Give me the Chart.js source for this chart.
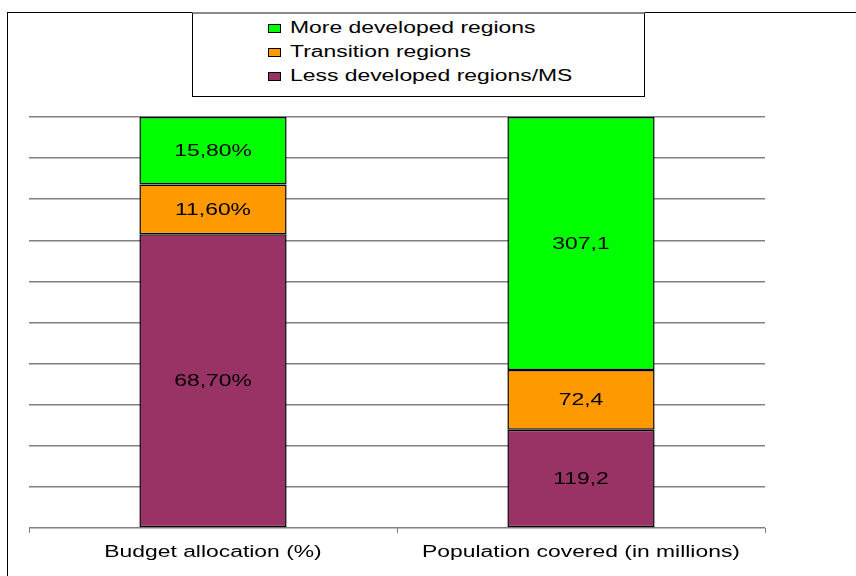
<!DOCTYPE html>
<html>
<head>
<meta charset="utf-8">
<script src="https://cdn.jsdelivr.net/npm/chart.js@4"></script>
<style>
  body { margin: 0; background: #fff; }
  #wrap { position: relative; width: 856px; height: 576px; overflow: hidden; }
  #frame { position: absolute; left: 7px; top: 12px; width: 900px; height: 700px; border: 1px solid #000; }
  #legend { position: absolute; left: 192px; top: 12px; width: 453px; height: 85px; border: 1px solid #000;
            border-top: 2px solid #888; box-sizing: border-box; background: #fff;
            font-family: "Liberation Sans", Arial, sans-serif; font-size: 16px; color: #000; }
  .item { position: absolute; left: 75px; height: 20px; line-height: 20px; white-space: nowrap; }
  .box { display: inline-block; width: 11px; height: 7px; border: 1px solid #000; margin-right: 9px; vertical-align: 0px; }
  .txt { display: inline-block; transform: scaleX(1.43); transform-origin: 0 50%; }
  canvas { position: absolute; left: 0; top: 0; }
</style>
</head>
<body>
<div id="wrap">
  <div id="frame"></div>
  <canvas id="myChart" width="856" height="576"></canvas>
  <div id="legend"></div>
</div>
<script>
const categories = ["Budget allocation (%)", "Population covered (in millions)"];
const lessDeveloped = [68.7, 119.2];
const transition = [11.6, 72.4];
const moreDeveloped = [15.8, 307.1];
const seriesNames = ["Less developed regions/MS", "Transition regions", "More developed regions"];
const seriesColors = ["#993366", "#FF9900", "#00FF00"];
const yTicks = [0, 10, 20, 30, 40, 50, 60, 70, 80, 90, 100];

const raw = [lessDeveloped, transition, moreDeveloped];
const totals = categories.map((c, i) => raw.reduce((s, arr) => s + arr[i], 0));

function fmt(v, i) {
  if (i == 0) return v.toFixed(2).replace(".", ",") + "%";
  return v.toFixed(1).replace(".", ",");
}

const datasets = raw.map((arr, k) => ({
  label: seriesNames[k],
  data: arr.map((v, i) => v / totals[i] * 100),
  rawValues: arr,
  backgroundColor: seriesColors[k],
  borderColor: "#000",
  borderWidth: 1.5,
  borderSkipped: false,
  barPercentage: 0.4,
  categoryPercentage: 1
}));

// the picture is stretched sideways, so text is drawn wider
function wideText(ctx, text, x, y) {
  ctx.save();
  ctx.translate(x, y);
  ctx.scale(1.43, 1);
  ctx.fillText(text, 0, 0);
  ctx.restore();
}

const valueLabels = {
  id: "valueLabels",
  afterDatasetsDraw(chart) {
    const ctx = chart.ctx;
    ctx.save();
    ctx.font = "16px 'Liberation Sans', Arial, sans-serif";
    ctx.fillStyle = "#000";
    ctx.textAlign = "center";
    ctx.textBaseline = "middle";
    chart.data.datasets.forEach((ds, k) => {
      chart.getDatasetMeta(k).data.forEach((bar, i) => {
        const mid = (bar.y + bar.base) / 2;
        wideText(ctx, fmt(ds.rawValues[i], i), bar.x, mid + 1);
      });
    });
    const xs = chart.scales.x;
    categories.forEach((c, i) => {
      wideText(ctx, c, xs.getPixelForValue(i), chart.chartArea.bottom + 25);
    });
    ctx.restore();
  }
};

Chart.defaults.font.family = "'Liberation Sans', Arial, sans-serif";
Chart.defaults.font.size = 16;
Chart.defaults.color = "#000";

new Chart("myChart", {
  type: "bar",
  data: { labels: categories, datasets: datasets },
  options: {
    responsive: false,
    animation: false,
    layout: { padding: { left: 29, right: 91, top: 117, bottom: 43 } },
    plugins: { legend: { display: false }, tooltip: { enabled: false } },
    scales: {
      x: {
        stacked: true,
        grid: { display: true, offset: true, drawOnChartArea: false, drawTicks: true, tickLength: 5, color: "#808080" },
        border: { display: false },
        ticks: { display: false }
      },
      y: {
        stacked: true,
        min: 0,
        max: 100,
        afterBuildTicks: axis => { axis.ticks = yTicks.map(v => ({ value: v })); },
        ticks: { display: false },
        grid: { color: "#808080", lineWidth: 1.5, drawTicks: false },
        border: { display: false }
      }
    }
  },
  plugins: [valueLabels]
});

// legend, top series first
const legend = document.getElementById("legend");
for (let k = seriesNames.length - 1; k >= 0; k--) {
  const row = document.createElement("div");
  row.className = "item";
  row.style.top = (4 + (2 - k) * 24) + "px";
  row.innerHTML = '<span class="box" style="background:' + seriesColors[k] + '"></span><span class="txt">' + seriesNames[k] + '</span>';
  legend.appendChild(row);
}
</script>
</body>
</html>
